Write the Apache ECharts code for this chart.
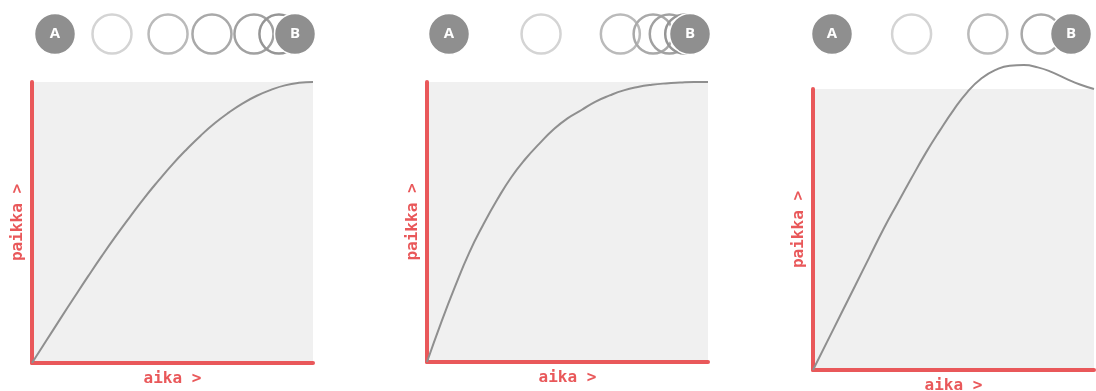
<!DOCTYPE html>
<html>
<head>
<meta charset="utf-8">
<script src="https://cdn.jsdelivr.net/npm/echarts@6/dist/echarts.min.js"></script>
<style>
  html, body { margin: 0; padding: 0; background: #fff; }
  #chart { width: 1096px; height: 391px; }
</style>
</head>
<body>
<div id="chart"></div>
<script>
// time (x) samples, shared by all three curves
const times = [0, 0.05, 0.1, 0.15, 0.2, 0.25, 0.3, 0.35, 0.4, 0.45, 0.5,
               0.55, 0.6, 0.65, 0.7, 0.75, 0.8, 0.85, 0.9, 0.95, 1];
// position (y)
const posA = [0, 0.078, 0.156, 0.233, 0.309, 0.383, 0.454, 0.522, 0.588, 0.649, 0.707,
              0.76, 0.809, 0.853, 0.891, 0.924, 0.951, 0.972, 0.988, 0.997, 1.0];
const posB = [0, 0.14, 0.27, 0.39, 0.49, 0.58, 0.66, 0.725, 0.78, 0.83, 0.87,
              0.9, 0.93, 0.952, 0.97, 0.982, 0.99, 0.995, 0.998, 1.0, 1.0];
const posC = [0, 0.1, 0.2, 0.3, 0.4, 0.5, 0.592, 0.682, 0.77, 0.85, 0.925,
              0.99, 1.038, 1.068, 1.083, 1.085, 1.077, 1.06, 1.037, 1.016, 1.0];

// frame positions of the ball between A (0) and B (1)
const framesA = [0.2375, 0.471, 0.654, 0.829, 0.933];
const framesB = [0.382, 0.711, 0.847, 0.914, 0.978];
const framesC = [0.333, 0.652, 0.875];
const overshootC = [1.06, 1.03];

const endLabels = ['A', 'B'];
const xName = 'aika >';
const yName = 'paikka >';

const RED = '#e9585a';
const CURVE = '#8f8f8f';
const BALL = '#8f8f8f';
const ringColors = ['#d4d4d4', '#bababa', '#a9a9a9', '#a1a1a1', '#959595'];
const monoFont = 'DejaVu Sans Mono';

const plotGrids = [
  { left: 32, top: 82, width: 281, height: 281 },
  { left: 427, top: 82, width: 281, height: 280 },
  { left: 813, top: 89, width: 281, height: 281 }
];
const ballGrids = [
  { left: 55, top: 14, width: 240, height: 40 },
  { left: 449, top: 14, width: 241, height: 40 },
  { left: 832, top: 14, width: 239, height: 40 }
];

const grids = [];
const xAxes = [];
const yAxes = [];
const series = [];

plotGrids.forEach(function (g) {
  grids.push(Object.assign({
    show: true, backgroundColor: '#f0f0f0', borderWidth: 0,
    containLabel: false, outerBoundsMode: 'none'
  }, g));
});
ballGrids.forEach(function (g) {
  grids.push(Object.assign({ show: false, outerBoundsMode: 'none' }, g));
});

const axisLine = { show: true, onZero: false, lineStyle: { color: RED, width: 4 } };

plotGrids.forEach(function (g, i) {
  xAxes.push({
    gridIndex: i, type: 'value', min: 0, max: 1,
    axisLine: axisLine, axisTick: { show: false }, axisLabel: { show: false },
    splitLine: { show: false },
    name: xName, nameLocation: 'middle', nameGap: 8,
    nameTextStyle: { color: RED, fontFamily: monoFont, fontWeight: 'bold', fontSize: 16 }
  });
  yAxes.push({
    gridIndex: i, type: 'value', min: 0, max: 1,
    axisLine: axisLine, axisTick: { show: false }, axisLabel: { show: false },
    splitLine: { show: false },
    name: yName, nameLocation: 'middle', nameGap: 6,
    nameTextStyle: { color: RED, fontFamily: monoFont, fontWeight: 'bold', fontSize: 16 }
  });
});
ballGrids.forEach(function (g, i) {
  xAxes.push({ gridIndex: 3 + i, type: 'value', min: 0, max: 1, show: false });
  yAxes.push({ gridIndex: 3 + i, type: 'value', min: -1, max: 1, show: false });
});

function curve(values, idx) {
  return {
    type: 'line', xAxisIndex: idx, yAxisIndex: idx,
    data: times.map(function (t, k) { return [t, values[k]]; }),
    smooth: true, showSymbol: false, clip: false,
    lineStyle: { color: CURVE, width: 2 }
  };
}
series.push(curve(posA, 0));
series.push(curve(posB, 1));
series.push(curve(posC, 2));

function rings(frames, idx) {
  return {
    type: 'scatter', xAxisIndex: idx, yAxisIndex: idx, symbolSize: 39,
    data: frames.map(function (f, k) {
      return {
        value: [f, 0],
        itemStyle: { color: 'rgba(0,0,0,0)', borderColor: ringColors[k], borderWidth: 2.5, opacity: 1 }
      };
    })
  };
}
function balls(frames, idx, withLabel) {
  return {
    type: 'scatter', xAxisIndex: idx, yAxisIndex: idx, symbolSize: 41,
    itemStyle: { color: BALL, borderColor: '#ffffff', borderWidth: 1.5, opacity: 1 },
    label: {
      show: withLabel, position: 'inside', color: '#fff',
      fontFamily: 'Open Sans', fontWeight: 'bold', fontSize: 15,
      formatter: function (p) { return p.data[2]; }
    },
    data: frames
  };
}
const ends = [[0, 0, endLabels[0]], [1, 0, endLabels[1]]];

series.push(rings(framesA, 3));
series.push(balls(ends, 3, true));
series.push(rings(framesB, 4));
series.push(balls(ends, 4, true));
series.push(rings(framesC, 5));
series.push(balls(overshootC.map(function (f) { return [f, 0, '']; }), 5, false));
series.push(balls(ends, 5, true));

const chart = echarts.init(document.getElementById('chart'), null, { renderer: 'canvas' });
chart.setOption({
  animation: false,
  grid: grids,
  xAxis: xAxes,
  yAxis: yAxes,
  series: series
});
window.addEventListener('resize', function () { chart.resize(); });
</script>
</body>
</html>
